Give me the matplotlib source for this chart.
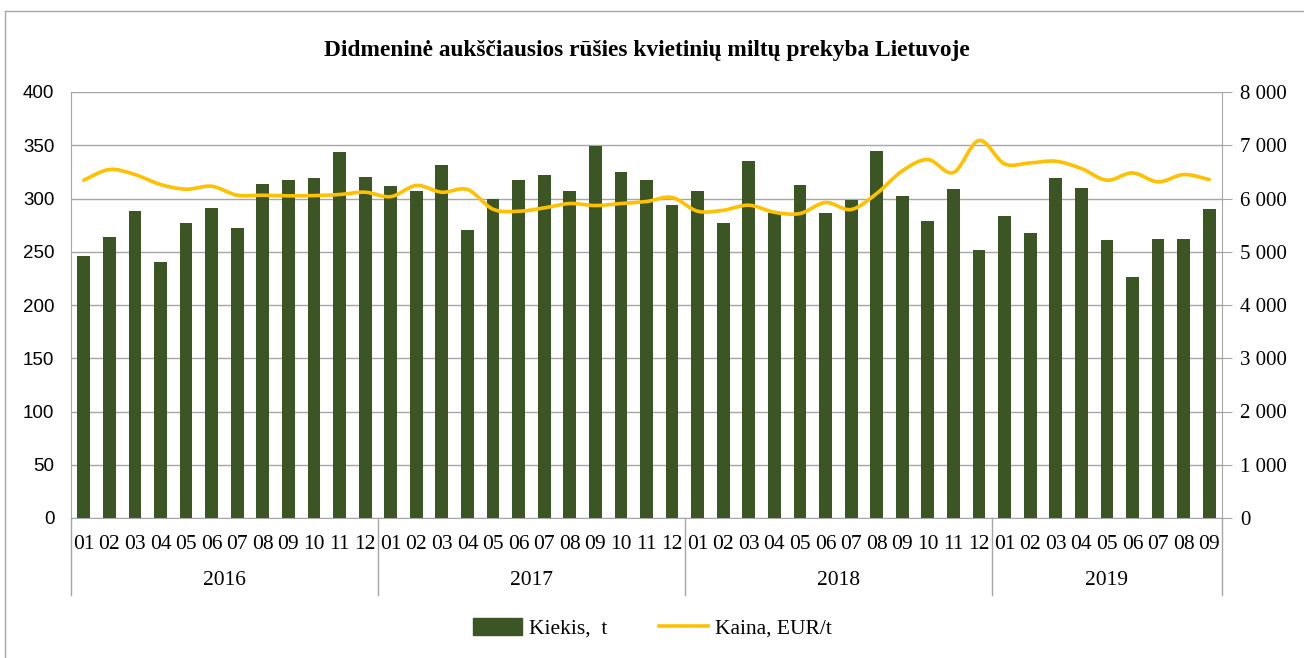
import matplotlib.pyplot as plt
import numpy as np
from matplotlib.path import Path
from matplotlib.patches import PathPatch
from matplotlib.lines import Line2D
from matplotlib.transforms import blended_transform_factory

years = ['2016', '2017', '2018', '2019']
months_per_year = [12, 12, 12, 9]

# Kiekis, t
kiekis = [246, 264, 288, 240, 277, 291, 272, 314, 317, 319, 344, 320,
          312, 307, 331, 270, 300, 317, 322, 307, 349, 325, 317, 294,
          307, 277, 335, 286, 313, 286, 299, 345, 302, 279, 309, 252,
          284, 268, 319, 310, 261, 226, 262, 262, 290]
# Kaina, EUR/t
kaina = [6344, 6545, 6450, 6263, 6175, 6230, 6062, 6062, 6050, 6055, 6075, 6118,
         6035, 6244, 6118, 6169, 5799, 5761, 5824, 5906, 5868, 5906, 5944, 6019,
         5761, 5780, 5874, 5742, 5718, 5925, 5793, 6094, 6518, 6732, 6488, 7090,
         6650, 6669, 6700, 6563, 6344, 6481, 6312, 6450, 6357]

month_labels = []
for n in months_per_year:
    month_labels += ['%02d' % (m + 1) for m in range(n)]

bar_color = '#3b5524'
line_color = '#ffc000'
grid_color = '#a6a6a6'
serif = 'Liberation Serif'
sans = 'Liberation Sans'

fig = plt.figure(figsize=(13.04, 6.58), dpi=100)
ax = fig.add_axes([71 / 1304, 1 - 518 / 658, (1222 - 71) / 1304, (518 - 92) / 658])
ax2 = ax.twinx()

x = np.arange(len(kiekis))
ax.bar(x, kiekis, width=0.5, color=bar_color, zorder=2)
ax.set_xlim(-0.5, len(kiekis) - 0.5)
ax.set_ylim(0, 400)
ax.set_yticks(range(0, 401, 50))
ax.yaxis.grid(True, color=grid_color, lw=1)
ax.set_axisbelow(True)
for lab in ax.get_yticklabels():
    lab.set_fontfamily(sans)
    lab.set_fontsize(13.5)
ax.tick_params(axis='y', length=0, pad=12)
ax.set_xticks(x)
ax.set_xticklabels(month_labels, fontfamily=serif, fontsize=15.5)
ax.tick_params(axis='x', length=0, pad=12)
for s in ['top', 'right']:
    ax.spines[s].set_visible(False)
for s in ['left', 'bottom']:
    ax.spines[s].set_color(grid_color)

# smooth price line (cubic bezier through the points)
n = len(kaina)
verts = [(x[0], kaina[0])]
codes = [Path.MOVETO]
for i in range(n - 1):
    a = max(i - 1, 0)
    b = min(i + 2, n - 1)
    c1 = (x[i] + (x[i + 1] - x[a]) / 6, kaina[i] + (kaina[i + 1] - kaina[a]) / 6)
    c2 = (x[i + 1] - (x[b] - x[i]) / 6, kaina[i + 1] - (kaina[b] - kaina[i]) / 6)
    verts += [c1, c2, (x[i + 1], kaina[i + 1])]
    codes += [Path.CURVE4] * 3
ax2.add_patch(PathPatch(Path(verts, codes), fill=False, edgecolor=line_color,
                        lw=2.6, capstyle='round', joinstyle='round', zorder=3))
ax2.set_ylim(0, 8000)
ax2.set_yticks(range(0, 8001, 1000))
ax2.set_yticklabels([('%d' % v) if v < 1000 else '%d %03d' % (v // 1000, v % 1000)
                     for v in range(0, 8001, 1000)], fontfamily=serif, fontsize=15)
ax2.tick_params(axis='y', length=7, color=grid_color, pad=6)
for s in ['top', 'left', 'bottom']:
    ax2.spines[s].set_visible(False)
ax2.spines['right'].set_color(grid_color)

# year labels and separators
trans = blended_transform_factory(ax.transData, ax.transAxes)
start = 0
bounds = [-0.5]
for yr, cnt in zip(years, months_per_year):
    ax.text(start + (cnt - 1) / 2, -0.146, yr, transform=trans, ha='center', va='center',
            fontfamily=serif, fontsize=15.5)
    start += cnt
    bounds.append(start - 0.5)
for bnd in bounds:
    ax.add_line(Line2D([bnd, bnd], [-0.181, 0], transform=trans, color=grid_color,
                       lw=1, clip_on=False))

ax.set_title('Didmeninė aukščiausios rūšies kvietinių miltų prekyba Lietuvoje',
             fontfamily=serif, fontweight='bold', fontsize=16.8, pad=26)

handles = [plt.Rectangle((0, 0), 1, 1, color=bar_color),
           Line2D([], [], color=line_color, lw=2.6)]
fig.legend(handles, ['Kiekis,  t', 'Kaina, EUR/t'], loc='center', bbox_to_anchor=(0.5, 0.045),
           ncol=2, frameon=False, prop={'family': serif, 'size': 15.5},
           handlelength=2.3, handleheight=0.8, handletextpad=0.3, columnspacing=2.4)

# outer frame
fig.add_artist(Line2D([5 / 1304, 5 / 1304], [0, 1 - 11 / 658], transform=fig.transFigure,
                      color=grid_color, lw=1))
fig.add_artist(Line2D([5 / 1304, 1], [1 - 11 / 658, 1 - 11 / 658], transform=fig.transFigure,
                      color=grid_color, lw=1))

fig.savefig('out.png', dpi=100)
